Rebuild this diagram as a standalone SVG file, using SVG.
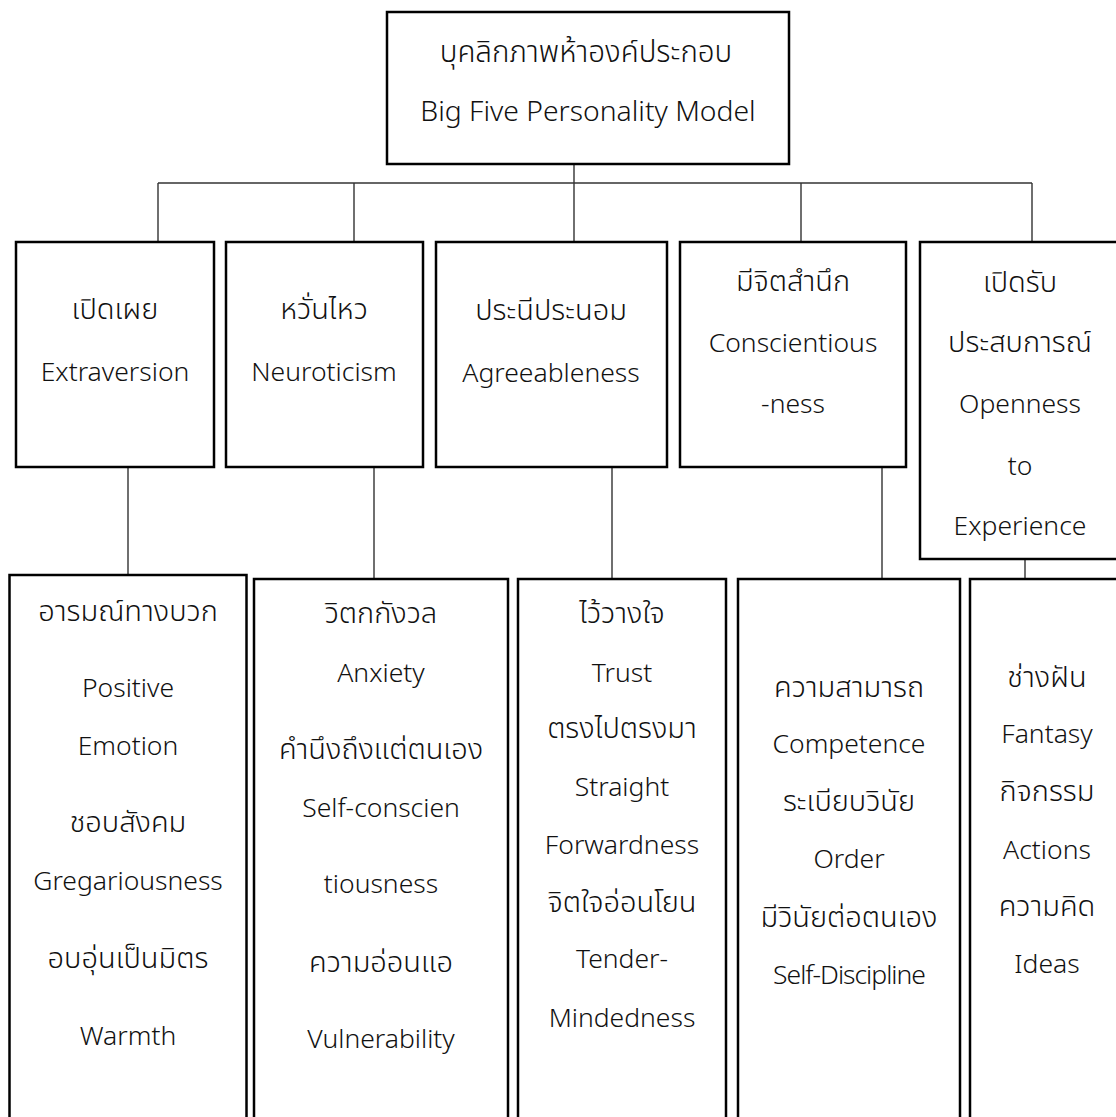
<svg xmlns="http://www.w3.org/2000/svg" width="1116" height="1117" viewBox="0 0 1116 1117">
  <style>
    .box { fill: #fff; stroke: #000; stroke-width: 2.5; }
    .wire { fill: none; stroke: #333; stroke-width: 1.4; }
    text { font-family: "Noto Sans", "Noto Sans Thai", "Open Sans", sans-serif; font-size: 26.5px; font-weight: 300; fill: #111; text-anchor: middle; }
    .th { font-size: 29px; }
  </style>
  <rect width="1116" height="1117" fill="#fff"/>

  <!-- connectors -->
  <g id="connectors" class="wire">
    <path d="M574 164 V242"/>
    <path d="M158 183 H1032"/>
    <path d="M158 183 V242 M354 183 V242 M801 183 V242 M1032 183 V242"/>
    <path d="M128 467 V575 M374 467 V579 M612 467 V579 M882 467 V579 M1025 559 V579"/>
  </g>

  <!-- root -->
  <g id="root">
    <rect class="box" x="387" y="12" width="402" height="152"/>
    <text class="th" x="586" y="62" style="font-size:29.5px">บุคลิกภาพห้าองค์ประกอบ</text>
    <text x="588" y="121" style="font-size:28.3px">Big Five Personality Model</text>
  </g>

  <!-- five traits -->
  <g id="extraversion">
    <rect class="box" x="16" y="242" width="198" height="225"/>
    <text class="th" x="115" y="319">เปิดเผย</text>
    <text x="115" y="381">Extraversion</text>
  </g>
  <g id="neuroticism">
    <rect class="box" x="226" y="242" width="197" height="225"/>
    <text class="th" x="324" y="319">หวั่นไหว</text>
    <text x="324" y="381">Neuroticism</text>
  </g>
  <g id="agreeableness">
    <rect class="box" x="436" y="242" width="231" height="225"/>
    <text class="th" x="551" y="320">ประนีประนอม</text>
    <text x="551" y="382">Agreeableness</text>
  </g>
  <g id="conscientiousness">
    <rect class="box" x="680" y="242" width="226" height="225"/>
    <text class="th" x="793" y="291">มีจิตสำนึก</text>
    <text x="793" y="352">Conscientious</text>
    <text x="793" y="413">-ness</text>
  </g>
  <g id="openness">
    <rect class="box" x="920" y="242" width="205" height="317"/>
    <text class="th" x="1020" y="292">เปิดรับ</text>
    <text class="th" x="1020" y="352">ประสบการณ์</text>
    <text x="1020" y="413">Openness</text>
    <text x="1020" y="475">to</text>
    <text x="1020" y="535">Experience</text>
  </g>

  <!-- facets -->
  <g id="extraversion-facets">
    <rect class="box" x="9.5" y="575" width="237" height="560"/>
    <text class="th" x="128" y="621">อารมณ์ทางบวก</text>
    <text x="128" y="697">Positive</text>
    <text x="128" y="755">Emotion</text>
    <text class="th" x="128" y="832">ชอบสังคม</text>
    <text x="128" y="890">Gregariousness</text>
    <text class="th" x="128" y="968">อบอุ่นเป็นมิตร</text>
    <text x="128" y="1045">Warmth</text>
  </g>
  <g id="neuroticism-facets">
    <rect class="box" x="254" y="579" width="254" height="560"/>
    <text class="th" x="381" y="623">วิตกกังวล</text>
    <text x="381" y="682">Anxiety</text>
    <text class="th" x="381" y="759">คำนึงถึงแต่ตนเอง</text>
    <text x="381" y="817">Self-conscien</text>
    <text x="381" y="893">tiousness</text>
    <text class="th" x="381" y="972">ความอ่อนแอ</text>
    <text x="381" y="1048">Vulnerability</text>
  </g>
  <g id="agreeableness-facets">
    <rect class="box" x="518" y="579" width="208" height="560"/>
    <text class="th" x="622" y="623">ไว้วางใจ</text>
    <text x="622" y="682">Trust</text>
    <text class="th" x="622" y="738">ตรงไปตรงมา</text>
    <text x="622" y="796">Straight</text>
    <text x="622" y="854">Forwardness</text>
    <text class="th" x="622" y="912">จิตใจอ่อนโยน</text>
    <text x="622" y="968">Tender-</text>
    <text x="622" y="1027">Mindedness</text>
  </g>
  <g id="conscientiousness-facets">
    <rect class="box" x="738" y="579" width="222" height="560"/>
    <text class="th" x="849" y="697">ความสามารถ</text>
    <text x="849" y="753">Competence</text>
    <text class="th" x="849" y="811">ระเบียบวินัย</text>
    <text x="849" y="868">Order</text>
    <text class="th" x="849" y="927">มีวินัยต่อตนเอง</text>
    <text x="849" y="984" letter-spacing="-1">Self-Discipline</text>
  </g>
  <g id="openness-facets">
    <rect class="box" x="970" y="579" width="160" height="560"/>
    <text class="th" x="1047" y="687">ช่างฝัน</text>
    <text x="1047" y="743">Fantasy</text>
    <text class="th" x="1047" y="801">กิจกรรม</text>
    <text x="1047" y="859">Actions</text>
    <text class="th" x="1047" y="916">ความคิด</text>
    <text x="1047" y="973">Ideas</text>
  </g>
</svg>
